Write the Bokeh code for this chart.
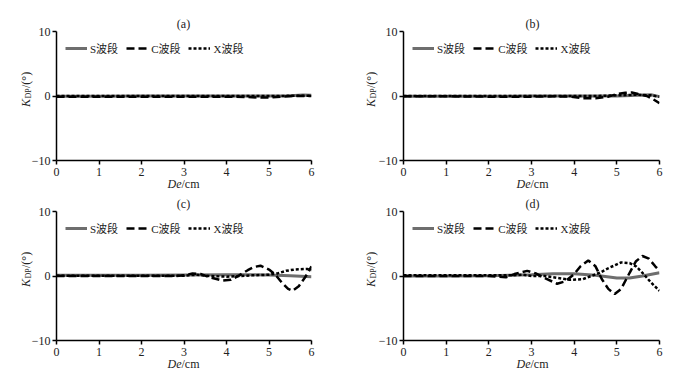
import numpy as np
from bokeh.plotting import figure
from bokeh.layouts import gridplot
from bokeh.models import Range1d, FixedTicker, Label, Legend, LegendItem
from bokeh.embed import file_html
from bokeh.resources import INLINE

x_ticks = [0, 1, 2, 3, 4, 5, 6]
y_ticks = [-10, 0, 10]
panel_tags = ["(a)", "(b)", "(c)", "(d)"]
series_names = ["S波段", "C波段", "X波段"]

# ---- panel (a)
a_s_x = [0, 1, 2, 3, 4, 5, 5.5, 5.8, 6]
a_s_y = [-0.05, -0.05, 0, 0, 0, 0, 0.05, 0.15, 0.1]
a_c_x = [0, 1, 2, 3, 4, 4.5, 4.8, 5.0, 5.3, 5.6, 6]
a_c_y = [-0.1, -0.1, -0.1, -0.1, -0.1, -0.15, -0.25, -0.25, -0.1, 0, 0]
a_x_x = [0, 1, 2, 3, 4, 5, 6]
a_x_y = [0, 0, 0, 0, 0, 0, 0.05]

# ---- panel (b)
b_s_x = [0, 1, 2, 3, 4, 5, 5.5, 5.8, 6]
b_s_y = [-0.05, -0.05, -0.05, 0, 0, 0, 0.1, 0.2, -0.1]
b_c_x = [0, 1, 2, 3, 3.6, 3.9, 4.2, 4.5, 4.8, 5.0, 5.2, 5.35, 5.5, 5.7, 5.85, 6.0]
b_c_y = [-0.05, -0.05, -0.1, -0.1, -0.05, -0.1, -0.35, -0.35, -0.1, 0.3, 0.5, 0.55, 0.3, 0.0, -0.5, -1.1]
b_x_x = [0, 1, 2, 3, 4, 4.5, 5.0, 5.5, 5.8, 6.0]
b_x_y = [0, 0, 0, 0, 0, 0, 0.1, 0.2, 0.1, -0.1]

# ---- panel (c)
c_s_x = [0, 1, 2, 3, 4, 4.5, 5, 5.5, 6]
c_s_y = [0.1, 0.1, 0.1, 0.15, 0.2, 0.2, 0.15, 0.05, -0.1]
c_c_x = [0, 1, 2, 2.8, 3.0, 3.2, 3.4, 3.6, 3.9, 4.1, 4.3, 4.5, 4.65, 4.8, 5.0, 5.15, 5.3, 5.45, 5.55, 5.7, 5.85, 6.0]
c_c_y = [0, 0, 0, 0, 0.1, 0.4, 0.3, -0.2, -0.7, -0.6, 0.1, 0.9, 1.4, 1.6, 1.0, 0.2, -1.0, -2.0, -2.3, -1.6, -0.2, 1.5]
c_x_x = [0, 1, 2, 3, 3.3, 3.6, 4.0, 4.3, 4.6, 5.0, 5.2, 5.4, 5.6, 5.9, 6.0]
c_x_y = [0.05, 0.05, 0.05, 0.05, 0.2, 0, -0.1, 0, 0.1, 0.2, 0.4, 0.8, 1.0, 1.1, 0.9]

# ---- panel (d)
d_s_x = [0, 1, 2, 3, 3.5, 4, 4.5, 5, 5.3, 5.6, 6]
d_s_y = [0, 0, 0.05, 0.2, 0.35, 0.35, 0.1, -0.3, -0.3, 0, 0.5]
d_c_x = [0, 1, 2, 2.4, 2.6, 2.9, 3.1, 3.3, 3.6, 3.8, 4.0, 4.15, 4.33, 4.5, 4.65, 4.8, 4.95, 5.1, 5.3, 5.45, 5.6, 5.75, 5.9, 6.0]
d_c_y = [0, 0, 0, -0.2, 0.3, 0.8, 0.4, -0.3, -1.2, -0.8, 0.3, 1.5, 2.4, 1.5, -0.5, -2.0, -2.8, -2.0, 0.5, 2.3, 3.1, 2.7, 1.5, 0.8]
d_x_x = [0, 1, 2, 2.5, 2.8, 3.0, 3.3, 3.6, 3.9, 4.2, 4.4, 4.6, 4.8, 5.0, 5.1, 5.3, 5.45, 5.6, 5.8, 6.0]
d_x_y = [0.1, 0.1, 0.1, 0.1, 0.2, 0.0, 0.0, -0.3, -0.6, -0.5, 0.0, 0.5, 1.2, 1.8, 2.1, 2.0, 1.5, 0.5, -1.0, -2.3]

SERIF = "'Liberation Serif', 'Times New Roman', serif"
LEG_FONT = "'Liberation Serif', 'Noto Sans CJK SC', serif"
TXT = "#222222"


def lab(text, x, y, size="12px", style="normal", align="left", angle=0.0):
    return Label(x=x, y=y, x_units="canvas", y_units="canvas", text=text,
                 text_align=align, text_baseline="middle", angle=angle,
                 text_font=SERIF, text_font_size=size, text_font_style=style,
                 text_color=TXT)


def make_panel(tag, s, c, xb, width, height, left, top, ylab_dx, sides):
    frame_w, frame_h = 258, 129
    p = figure(width=width, height=height, output_backend="svg", toolbar_location=None,
               x_range=Range1d(0, 6), y_range=Range1d(-10, 10),
               min_border_left=left, min_border_right=width - left - frame_w,
               min_border_top=top, min_border_bottom=height - top - frame_h)
    p.outline_line_color = None
    p.background_fill_color = "white"
    p.border_fill_color = "white"
    p.xgrid.visible = False
    p.ygrid.visible = False
    for ax in (p.xaxis[0], p.yaxis[0]):
        ax.axis_line_color = "black"
        ax.axis_line_width = 1.5
        ax.major_tick_line_color = "black"
        ax.major_tick_line_width = 1.5
        ax.major_tick_out = 4
        ax.major_tick_in = 0
        ax.minor_tick_line_color = None
        ax.major_label_text_font = SERIF
        ax.major_label_text_font_size = "12px"
        ax.major_label_text_color = TXT
    p.xaxis.ticker = FixedTicker(ticks=x_ticks)
    p.yaxis.ticker = FixedTicker(ticks=y_ticks)
    p.xaxis.major_label_standoff = 3
    p.yaxis.major_label_standoff = 2

    r_s = p.line(s[0], s[1], line_color="#6e6e6e", line_width=3)
    r_c = p.line(c[0], c[1], line_color="black", line_width=2.5, line_dash="8 4")
    r_x = p.line(xb[0], xb[1], line_color="black", line_width=2.5, line_dash="3 2")

    leg = Legend(items=[LegendItem(label=series_names[0], renderers=[r_s]),
                        LegendItem(label=series_names[1], renderers=[r_c]),
                        LegendItem(label=series_names[2], renderers=[r_x])],
                 orientation="horizontal", location="top_left",
                 background_fill_alpha=0, border_line_color=None,
                 padding=0, margin=9, spacing=8, glyph_width=22, glyph_height=12,
                 label_height=12, label_standoff=3,
                 label_text_font=LEG_FONT, label_text_font_size="11px",
                 label_text_color=TXT)
    p.add_layout(leg)

    fl, ft = left, top
    fb = ft + frame_h
    cx = fl + frame_w / 2
    xc = fl - ylab_dx
    ybot = ft + frame_h / 2 - 5 + 16
    labels = {
        "title": lab(tag, cx, ft - 8, align="center"),
        "De": lab("De", cx - 2, fb + 23, style="italic", align="right"),
        "cm": lab("/cm", cx - 2, fb + 23, align="left"),
        "K": lab("K", xc, ybot, style="italic", angle=np.pi / 2),
        "DP": lab("DP", xc + 3, ybot - 8.5, size="8px", angle=np.pi / 2),
        "deg": lab("/(°)", xc, ybot - 19, angle=np.pi / 2),
    }
    for side, keys in sides.items():
        for k in keys:
            p.add_layout(labels[k], side)
    return p


sides_a = {"left": ["K", "deg"], "above": ["title", "De"], "right": ["cm", "DP"]}
sides_b = {"left": ["K", "deg", "DP"], "above": ["title", "De"], "right": ["cm"]}
sides_c = {"left": ["K", "deg"], "above": ["title"], "below": ["De"], "right": ["cm", "DP"]}
sides_d = {"left": ["K", "deg", "DP"], "above": ["title"], "below": ["De"], "right": ["cm"]}

pa = make_panel(panel_tags[0], (a_s_x, a_s_y), (a_c_x, a_c_y), (a_x_x, a_x_y), 338, 191, 54, 31, 29, sides_a)
pb = make_panel(panel_tags[1], (b_s_x, b_s_y), (b_c_x, b_c_y), (b_x_x, b_x_y), 339, 191, 65, 31, 33, sides_b)
pc = make_panel(panel_tags[2], (c_s_x, c_s_y), (c_c_x, c_c_y), (c_x_x, c_x_y), 338, 187, 54, 20, 29, sides_c)
pd = make_panel(panel_tags[3], (d_s_x, d_s_y), (d_c_x, d_c_y), (d_x_x, d_x_y), 339, 187, 65, 20, 33, sides_d)

grid = gridplot([[pa, pb], [pc, pd]], toolbar_location=None)
open("out.html", "w").write(file_html(grid, INLINE))
